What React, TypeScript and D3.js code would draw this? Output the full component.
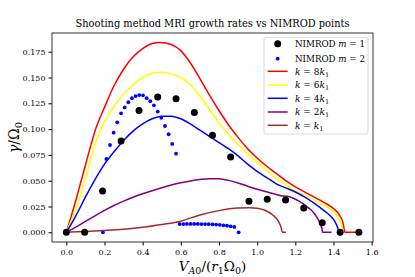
import React, { useEffect, useRef } from 'react';
import * as d3 from 'd3';

// NIMROD m = 1 points
const m1X = [0, 0.096, 0.19, 0.287, 0.381, 0.479, 0.575, 0.671, 0.766, 0.861, 0.957, 1.053, 1.149, 1.244, 1.341, 1.435, 1.533];
const m1Y = [0, 0, 0.04, 0.0885, 0.118, 0.131, 0.1295, 0.116, 0.094, 0.073, 0.03, 0.032, 0.0313, 0.0235, 0.0093, 0, 0];

// NIMROD m = 2 points
const m2X = [
  0.192, 0.21, 0.229, 0.248, 0.267, 0.287, 0.306, 0.325, 0.344, 0.363, 0.382, 0.402, 0.421, 0.44, 0.459, 0.479,
  0.498, 0.517, 0.536, 0.555, 0.575, 0.594, 0.613, 0.632, 0.651, 0.67, 0.689, 0.708, 0.727, 0.746, 0.766, 0.785,
  0.804, 0.823, 0.842, 0.861, 0.88, 0.903,
];
const m2Y = [
  0, 0.071, 0.0846, 0.0965, 0.1066, 0.1153, 0.121, 0.126, 0.13, 0.132, 0.133, 0.1327, 0.13, 0.127, 0.123, 0.117,
  0.111, 0.103, 0.095, 0.0856, 0.0762, 0.008, 0.008, 0.0081, 0.0081, 0.0081, 0.0081, 0.008, 0.008, 0.0079, 0.0077,
  0.0075, 0.0072, 0.0068, 0.0064, 0.0058, 0.0052, 0,
];

// shooting method curves
const k8X = [0, 0.025, 0.05, 0.075, 0.1, 0.125, 0.15, 0.2, 0.25, 0.3, 0.35, 0.4, 0.45, 0.49, 0.55, 0.6, 0.65, 0.7, 0.75, 0.8, 0.85, 0.9, 0.95, 1.0, 1.05, 1.1, 1.15, 1.2, 1.25, 1.3, 1.35, 1.4, 1.43, 1.45, 1.46, 1.54];
const k8Y = [0, 0.015, 0.031, 0.048, 0.065, 0.082, 0.098, 0.121, 0.142, 0.158, 0.17, 0.178, 0.183, 0.184, 0.182, 0.176, 0.164, 0.149, 0.133, 0.118, 0.104, 0.092, 0.081, 0.072, 0.064, 0.057, 0.05, 0.044, 0.039, 0.034, 0.029, 0.023, 0.017, 0.009, 0, 0];

const k6X = [0, 0.025, 0.05, 0.1, 0.15, 0.2, 0.25, 0.3, 0.35, 0.4, 0.45, 0.5, 0.55, 0.6, 0.65, 0.7, 0.75, 0.8, 0.85, 0.9, 0.95, 1.0, 1.05, 1.1, 1.15, 1.2, 1.25, 1.3, 1.35, 1.4, 1.43, 1.445, 1.451];
const k6Y = [0, 0.011, 0.022, 0.052, 0.085, 0.107, 0.122, 0.134, 0.143, 0.15, 0.154, 0.155, 0.1535, 0.15, 0.143, 0.132, 0.119, 0.106, 0.095, 0.085, 0.076, 0.068, 0.06, 0.052, 0.046, 0.04, 0.036, 0.031, 0.026, 0.02, 0.012, 0.005, 0];

const k4X = [0, 0.05, 0.1, 0.15, 0.2, 0.25, 0.3, 0.35, 0.4, 0.45, 0.5, 0.55, 0.6, 0.65, 0.7, 0.75, 0.8, 0.85, 0.9, 0.95, 1.0, 1.05, 1.1, 1.15, 1.2, 1.25, 1.3, 1.35, 1.38, 1.4, 1.415, 1.43];
const k4Y = [0, 0.016, 0.034, 0.051, 0.066, 0.078, 0.089, 0.098, 0.105, 0.11, 0.1125, 0.1125, 0.11, 0.105, 0.099, 0.093, 0.087, 0.081, 0.074, 0.066, 0.059, 0.053, 0.047, 0.043, 0.039, 0.034, 0.028, 0.021, 0.0165, 0.0125, 0.0075, 0];

const k2X = [0, 0.05, 0.1, 0.15, 0.2, 0.25, 0.3, 0.35, 0.4, 0.45, 0.5, 0.55, 0.6, 0.65, 0.7, 0.75, 0.8, 0.85, 0.9, 0.95, 1.0, 1.05, 1.1, 1.13, 1.155, 1.19, 1.224, 1.26, 1.294, 1.315, 1.33, 1.34, 1.343, 1.39];
const k2Y = [0, 0.005, 0.0105, 0.016, 0.0212, 0.026, 0.0302, 0.034, 0.0373, 0.0403, 0.0432, 0.0458, 0.048, 0.0498, 0.0512, 0.052, 0.0518, 0.0503, 0.0478, 0.0447, 0.0418, 0.0392, 0.0366, 0.0352, 0.035, 0.033, 0.0297, 0.025, 0.0195, 0.014, 0.0085, 0.003, 0, 0];

const k1X = [0, 0.1, 0.2, 0.3, 0.4, 0.5, 0.6, 0.7, 0.8, 0.9, 0.96, 1.0, 1.04, 1.08, 1.11, 1.125, 1.132, 1.151];
const k1Y = [0, 0.0008, 0.0018, 0.003, 0.0048, 0.0075, 0.0108, 0.0168, 0.021, 0.0235, 0.0238, 0.0232, 0.0213, 0.017, 0.011, 0.005, 0, 0];

const xTicks = [0, 0.2, 0.4, 0.6, 0.8, 1.0, 1.2, 1.4, 1.6];
const yTicks = [0, 0.025, 0.05, 0.075, 0.1, 0.125, 0.15, 0.175];

const curves = [
  { xs: k8X, ys: k8Y, color: '#ff0000', label: '8k' },
  { xs: k6X, ys: k6Y, color: '#ffff00', label: '6k' },
  { xs: k4X, ys: k4Y, color: '#0000ff', label: '4k' },
  { xs: k2X, ys: k2Y, color: '#800080', label: '2k' },
  { xs: k1X, ys: k1Y, color: '#a52a2a', label: 'k' },
];

const FONT = "'DejaVu Serif', 'Liberation Serif', serif";

export default function App() {
  const ref = useRef<SVGSVGElement>(null);

  useEffect(() => {
    const svg = d3.select(ref.current);
    svg.selectAll('*').remove();

    const x = d3.scaleLinear().domain([-0.075, 1.607]).range([52, 373]);
    const y = d3.scaleLinear().domain([-0.0094, 0.1931]).range([242, 33]);

    svg.append('rect').attr('width', 415).attr('height', 277).attr('fill', '#fff');

    const xAxis = svg
      .append('g')
      .attr('transform', 'translate(0,242)')
      .call(d3.axisBottom(x).tickValues(xTicks).tickFormat(d3.format('.1f')).tickSize(3.5).tickSizeOuter(0));
    xAxis.select('.domain').remove();
    xAxis.selectAll('text').attr('font-family', FONT).attr('font-size', 8).attr('dy', '0.85em');

    const yAxis = svg
      .append('g')
      .attr('transform', 'translate(52,0)')
      .call(d3.axisLeft(y).tickValues(yTicks).tickFormat(d3.format('.3f')).tickSize(3.5).tickSizeOuter(0));
    yAxis.select('.domain').remove();
    yAxis.selectAll('text').attr('font-family', FONT).attr('font-size', 8);

    const line = d3
      .line<[number, number]>()
      .x((d) => x(d[0]))
      .y((d) => y(d[1]))
      .curve(d3.curveMonotoneX);

    curves.forEach((c) => {
      svg
        .append('path')
        .datum(c.xs.map((v, i) => [v, c.ys[i]] as [number, number]))
        .attr('d', line)
        .attr('fill', 'none')
        .attr('stroke', c.color)
        .attr('stroke-width', 1.5);
    });

    svg
      .append('g')
      .selectAll('circle')
      .data(m2X)
      .enter()
      .append('circle')
      .attr('cx', (d) => x(d))
      .attr('cy', (d, i) => y(m2Y[i]))
      .attr('r', 1.9)
      .attr('fill', '#0000ff');

    svg
      .append('g')
      .selectAll('circle')
      .data(m1X)
      .enter()
      .append('circle')
      .attr('cx', (d) => x(d))
      .attr('cy', (d, i) => y(m1Y[i]))
      .attr('r', 3.5)
      .attr('fill', '#000');

    svg
      .append('rect')
      .attr('x', 52)
      .attr('y', 33)
      .attr('width', 321)
      .attr('height', 209)
      .attr('fill', 'none')
      .attr('stroke', '#000')
      .attr('stroke-width', 0.8);

    // legend
    const lg = svg.append('g');
    lg.append('rect')
      .attr('x', 264)
      .attr('y', 37.5)
      .attr('width', 104)
      .attr('height', 96.5)
      .attr('rx', 2)
      .attr('fill', '#fff')
      .attr('fill-opacity', 0.8)
      .attr('stroke', '#d0d0d0')
      .attr('stroke-width', 0.8);

    const rowY = [43.7, 58.7, 71.3, 85, 98.3, 112, 125.3];
    lg.append('circle').attr('cx', 277.7).attr('cy', rowY[0]).attr('r', 3.5).attr('fill', '#000');
    lg.append('circle').attr('cx', 277.7).attr('cy', rowY[1]).attr('r', 1.9).attr('fill', '#0000ff');

    ['1', '2'].forEach((n, i) => {
      const t = lg
        .append('text')
        .attr('x', 295)
        .attr('y', rowY[i] + 3.2)
        .attr('font-family', FONT)
        .attr('font-size', 8.7);
      t.append('tspan').text('NIMROD ');
      t.append('tspan').attr('font-style', 'italic').text('m');
      t.append('tspan').text(' = ' + n);
    });

    curves.forEach((c, i) => {
      const yy = rowY[i + 2];
      lg.append('line')
        .attr('x1', 267.7)
        .attr('x2', 287.7)
        .attr('y1', yy)
        .attr('y2', yy)
        .attr('stroke', c.color)
        .attr('stroke-width', 1.5);
      const t = lg
        .append('text')
        .attr('x', 295)
        .attr('y', yy + 3.2)
        .attr('font-family', FONT)
        .attr('font-size', 9);
      t.append('tspan').attr('font-style', 'italic').text('k');
      t.append('tspan').text(' = ' + c.label.replace('k', ''));
      t.append('tspan').attr('font-style', 'italic').text('k');
      t.append('tspan').attr('font-size', 6.5).attr('dy', 2).text('1');
    });

    svg
      .append('text')
      .attr('x', 212.5)
      .attr('y', 26.5)
      .attr('text-anchor', 'middle')
      .attr('font-family', FONT)
      .attr('font-size', 11)
      .attr('textLength', 274)
      .attr('lengthAdjust', 'spacingAndGlyphs')
      .text('Shooting method MRI growth rates vs NIMROD points');

    const xl = svg
      .append('text')
      .attr('x', 212.5)
      .attr('y', 270.5)
      .attr('text-anchor', 'middle')
      .attr('font-family', FONT)
      .attr('font-size', 13.5);
    xl.append('tspan').attr('font-style', 'italic').text('V');
    xl.append('tspan').attr('font-size', 9.5).attr('dy', 3).attr('font-style', 'italic').text('A');
    xl.append('tspan').attr('font-size', 9.5).text('0');
    xl.append('tspan').attr('dy', -3).text('/(');
    xl.append('tspan').attr('font-style', 'italic').text('r');
    xl.append('tspan').attr('font-size', 9.5).attr('dy', 3).text('1');
    xl.append('tspan').attr('dy', -3).text('Ω');
    xl.append('tspan').attr('font-size', 9.5).attr('dy', 3).text('0');
    xl.append('tspan').attr('dy', -3).text(')');

    const yl = svg
      .append('text')
      .attr('transform', 'translate(19,137.5) rotate(-90)')
      .attr('text-anchor', 'middle')
      .attr('font-family', FONT)
      .attr('font-size', 14);
    yl.append('tspan').attr('font-style', 'italic').text('γ');
    yl.append('tspan').text('/Ω');
    yl.append('tspan').attr('font-size', 10).attr('dy', 3).text('0');
  }, []);

  return <svg ref={ref} width={415} height={277} style={{ position: 'absolute', left: 0, top: 0 }} />;
}
